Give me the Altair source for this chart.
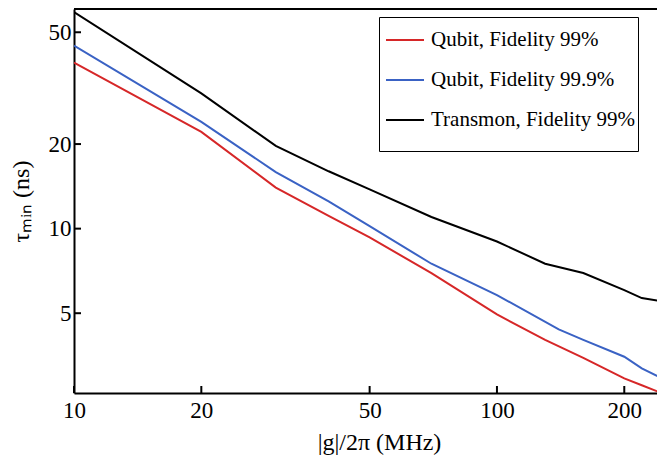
import altair as alt
import pandas as pd

# Data (log-log)
qubit99_x = [10, 20, 30, 40, 50, 70, 100, 130, 160, 200, 220, 240]
qubit99_y = [39.0, 22.1, 14.0, 11.1, 9.3, 6.95, 4.95, 4.02, 3.47, 2.93, 2.77, 2.63]

qubit999_x = [10, 20, 30, 40, 50, 70, 100, 140, 160, 200, 220, 240]
qubit999_y = [44.8, 24.0, 15.9, 12.5, 10.2, 7.5, 5.8, 4.38, 4.02, 3.5, 3.18, 2.98]

transmon_x = [10, 20, 30, 40, 50, 70, 100, 130, 160, 200, 220, 240]
transmon_y = [59.0, 30.3, 19.7, 16.0, 13.8, 11.0, 9.0, 7.5, 6.95, 6.04, 5.66, 5.54]

series_names = ["Qubit, Fidelity 99%", "Qubit, Fidelity 99.9%", "Transmon, Fidelity 99%"]
series_colors = ["#d62728", "#3a62c4", "#000000"]

x_ticks = [10, 20, 50, 100, 200]
y_ticks = [5, 10, 20, 50]
x_domain = [10, 239]
y_domain = [2.6, 60.5]

rows = []
for name, xs, ys in zip(series_names,
                        [qubit99_x, qubit999_x, transmon_x],
                        [qubit99_y, qubit999_y, transmon_y]):
    for i, (xv, yv) in enumerate(zip(xs, ys)):
        rows.append({"g": xv, "tau": yv, "series": name, "order": i})
df = pd.DataFrame(rows)

W, H = 583, 384
FONT = "Liberation Serif"

xscale = alt.Scale(type="log", domain=x_domain, nice=False)
yscale = alt.Scale(type="log", domain=y_domain, nice=False)

lines = alt.Chart(df).mark_line(strokeWidth=2, clip=True).encode(
    x=alt.X("g:Q", scale=xscale,
            axis=alt.Axis(values=x_ticks, format="d", title="|g|/2π  (MHz)",
                          ticks=False, labelPadding=6, titlePadding=8,
                          titleX=305, grid=False, labelFlush=False,
                          domainColor="black", domainWidth=2,
                          labelFont=FONT, labelFontSize=23, labelColor="black",
                          titleFont=FONT, titleFontSize=24, titleColor="black",
                          titleFontWeight="normal")),
    y=alt.Y("tau:Q", scale=yscale,
            axis=alt.Axis(values=y_ticks, format="d", title="τₘᵢₙ (ns)",
                          ticks=False, labelPadding=3, titlePadding=15,
                          grid=False, labelFlush=False,
                          domainColor="black", domainWidth=2,
                          labelFont=FONT, labelFontSize=23, labelColor="black",
                          titleFont=FONT, titleFontSize=24, titleColor="black",
                          titleFontWeight="normal")),
    color=alt.Color("series:N",
                    scale=alt.Scale(domain=series_names, range=series_colors),
                    legend=alt.Legend(title="\u00a0" * 59, titleOrient="bottom",
                                      titleFont=FONT, titleFontSize=18,
                                      titlePadding=0, titleLimit=1000,
                                      titleAlign="left",
                                      orient="none",
                                      legendX=305, legendY=8,
                                      symbolType="stroke", symbolSize=1444,
                                      symbolStrokeWidth=2, symbolOffset=3,
                                      labelFont=FONT,
                                      labelFontSize=21, labelColor="black",
                                      rowPadding=10, padding=3,
                                      labelOffset=6,
                                      strokeColor="black", fillColor="white",
                                      labelLimit=400)),
    order="order:Q",
)

xt_df = pd.DataFrame({"v": x_ticks})
yt_df = pd.DataFrame({"v": y_ticks})

xticks = alt.Chart(xt_df).mark_rule(color="black", strokeWidth=2).encode(
    x=alt.X("v:Q", scale=xscale),
    y=alt.value(H), y2=alt.value(H - 7),
)
yticks = alt.Chart(yt_df).mark_rule(color="black", strokeWidth=2).encode(
    y=alt.Y("v:Q", scale=yscale),
    x=alt.value(0), x2=alt.value(7),
)
top_spine = alt.Chart(xt_df).mark_rule(color="black", strokeWidth=2).encode(
    x=alt.value(0), x2=alt.value(W), y=alt.value(0),
)

chart = alt.layer(lines, xticks, yticks, top_spine).properties(
    width=W, height=H,
    background="white",
    autosize=alt.AutoSizeParams(type="none"),
    padding={"left": 74, "top": 9, "right": 0, "bottom": 67},
).configure_view(stroke=None)

chart.save("out.html", embed_options={"renderer": "svg", "actions": False})
